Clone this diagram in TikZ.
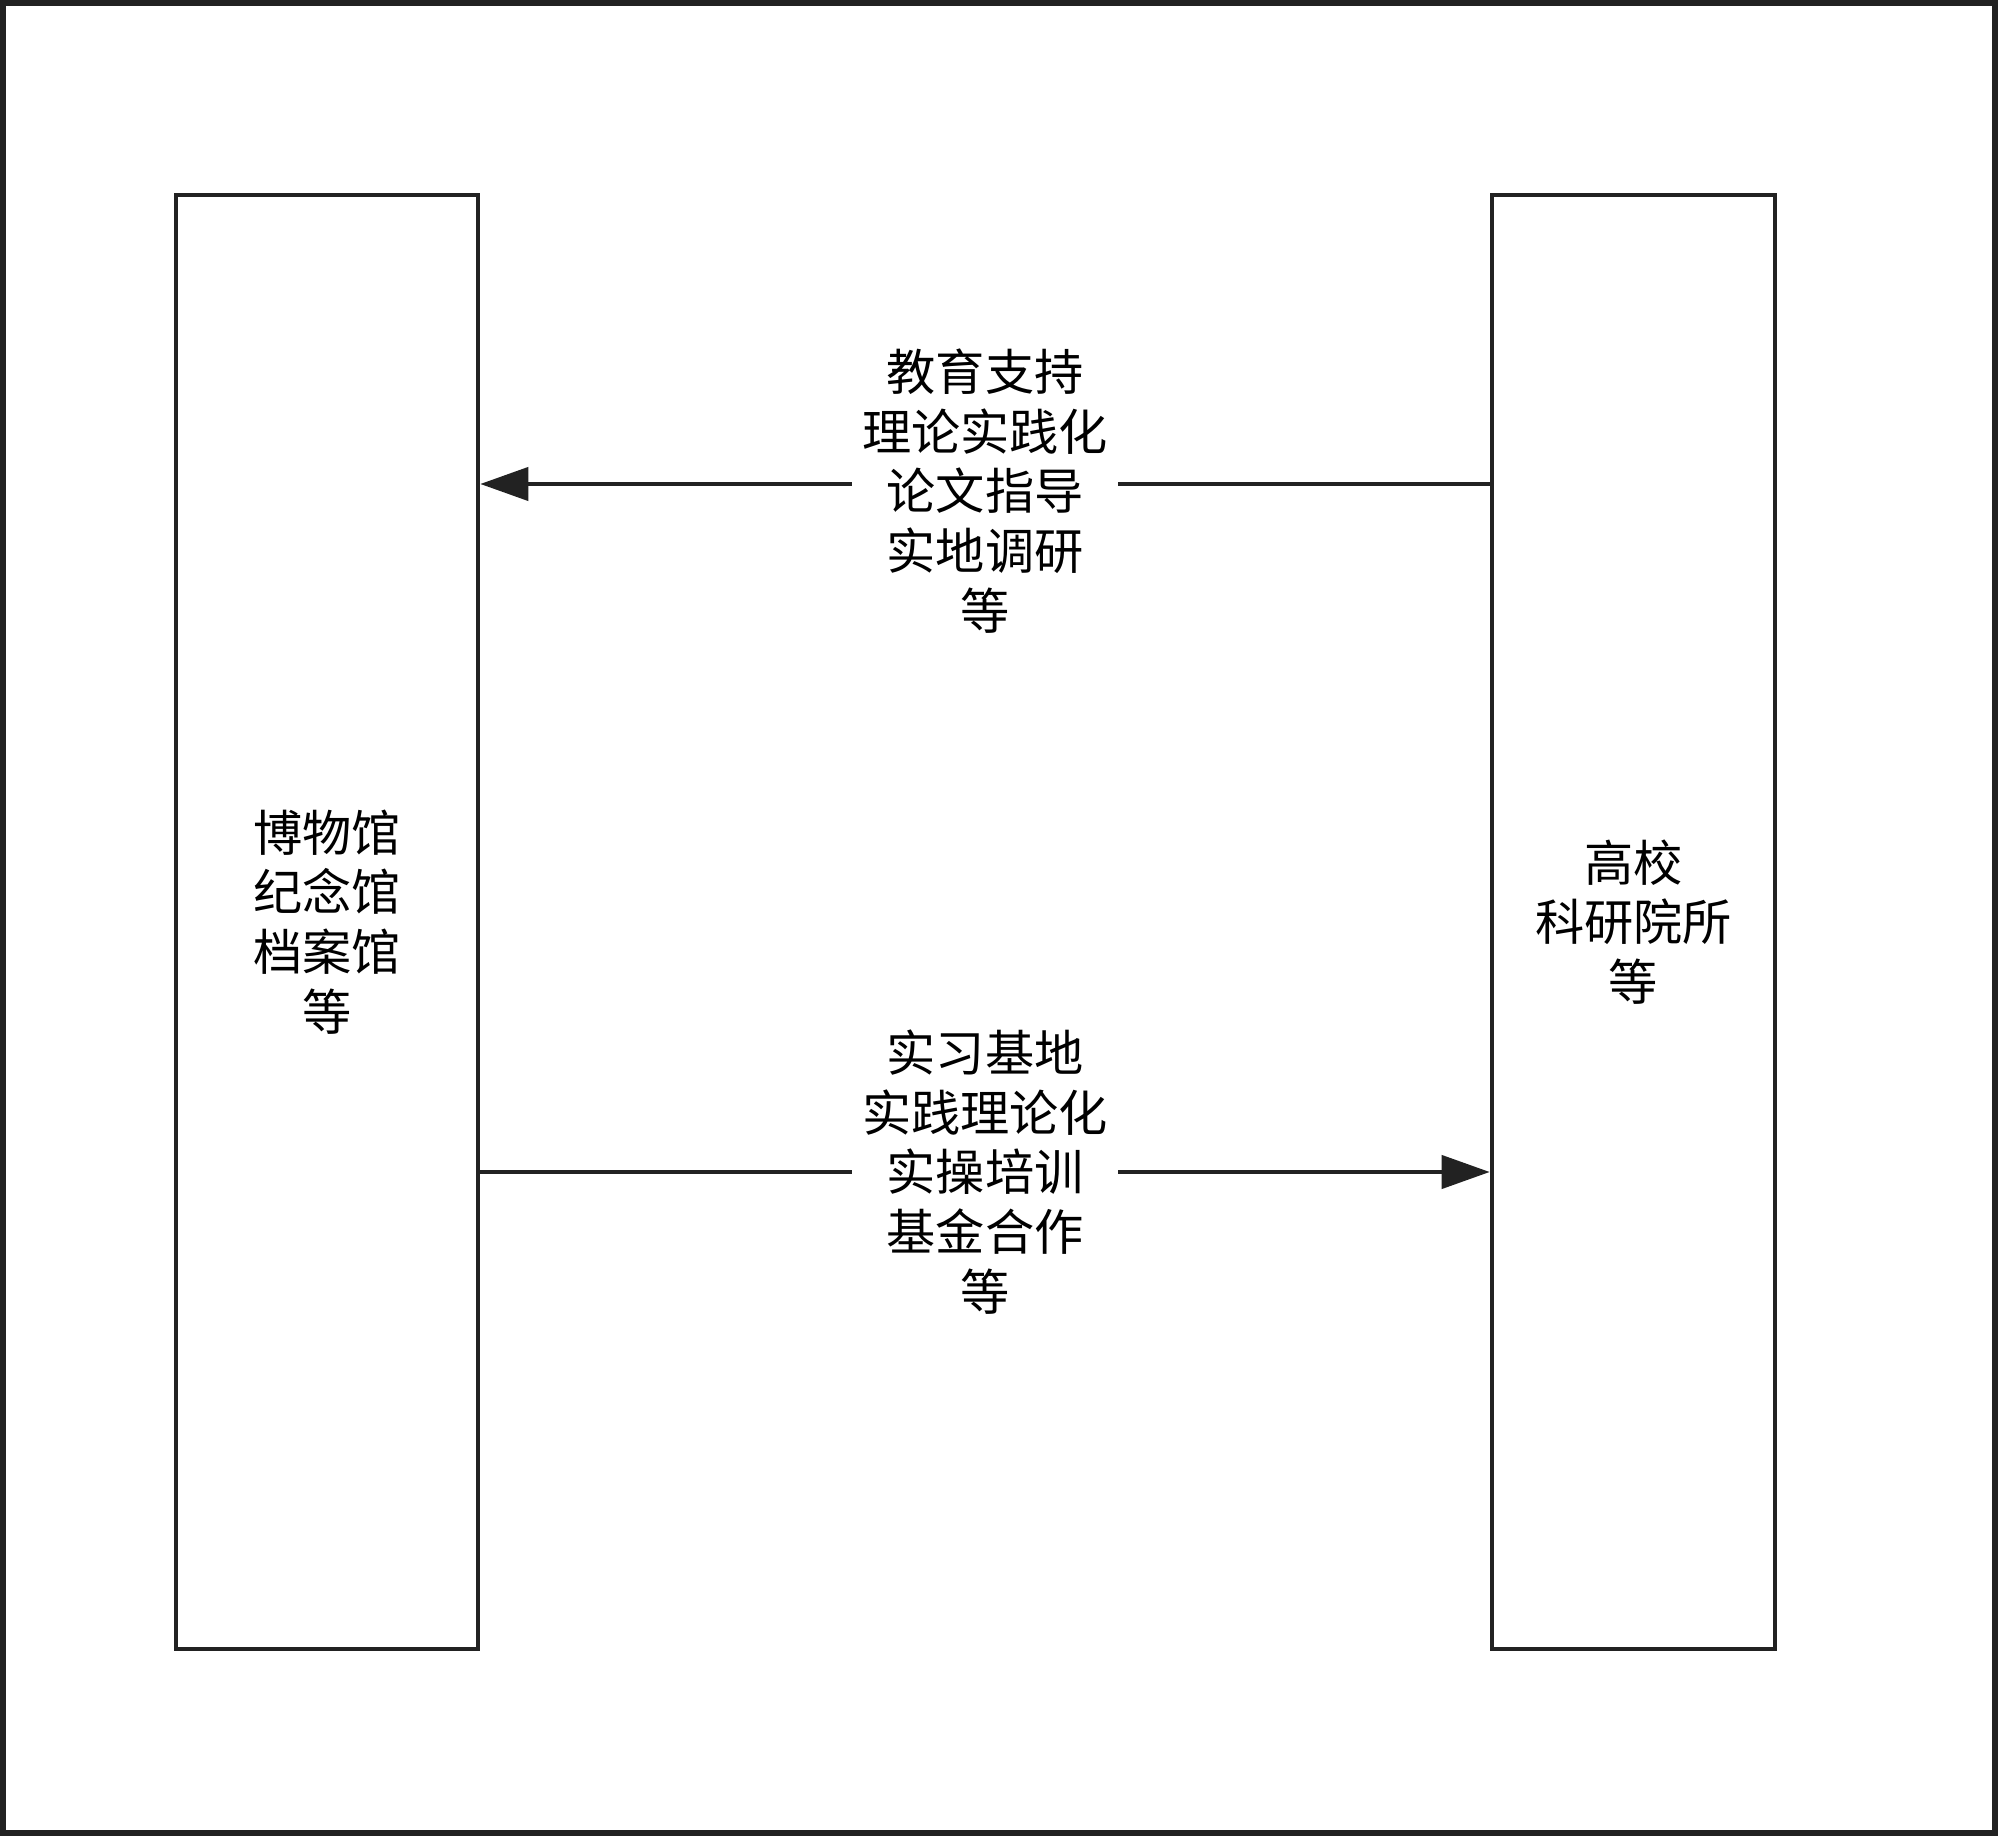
\documentclass[tikz,border=0pt]{standalone}
\usepackage{fontspec}
\newfontfamily\cjk{Noto Sans CJK SC}
\usepackage{tikz}
\usetikzlibrary{arrows.meta,positioning,calc}
\usepackage{xcolor}
\definecolor{ink}{HTML}{222222}
\tikzset{unit/.style={draw=ink,line width=1.3pt,minimum height=145.4mm,align=center,font=\cjk\fontsize{14}{17}\selectfont},flow/.style={fill=white,align=center,inner xsep=1mm,inner ysep=1pt,font=\cjk\fontsize{14}{17}\selectfont},arrow/.style={-{Triangle[length=4.8mm,width=3.3mm]},line width=1.2pt,draw=ink}}

\begin{document}
\begin{tikzpicture}
\useasboundingbox (0,0) rectangle (20,18.38);
\draw[ink,line width=1.7pt] (0.03,0.05) rectangle (19.95,18.35);
\node[unit,minimum width=30.2mm] (museum) at (3.27,9.16) {博物馆\\纪念馆\\档案馆\\等};
\node[unit,minimum width=28.3mm] (college) at (16.335,9.16) {高校\\科研院所\\等};
\draw[arrow] ([yshift=43.8mm]college.west) -- node[flow,yshift=-0.7mm] {教育支持\\理论实践化\\论文指导\\实地调研\\等} ([yshift=43.8mm]museum.east);
\draw[arrow] ([yshift=-25mm]museum.east) -- node[flow] {实习基地\\实践理论化\\实操培训\\基金合作\\等} ([yshift=-25mm]college.west);
\end{tikzpicture}
\end{document}
